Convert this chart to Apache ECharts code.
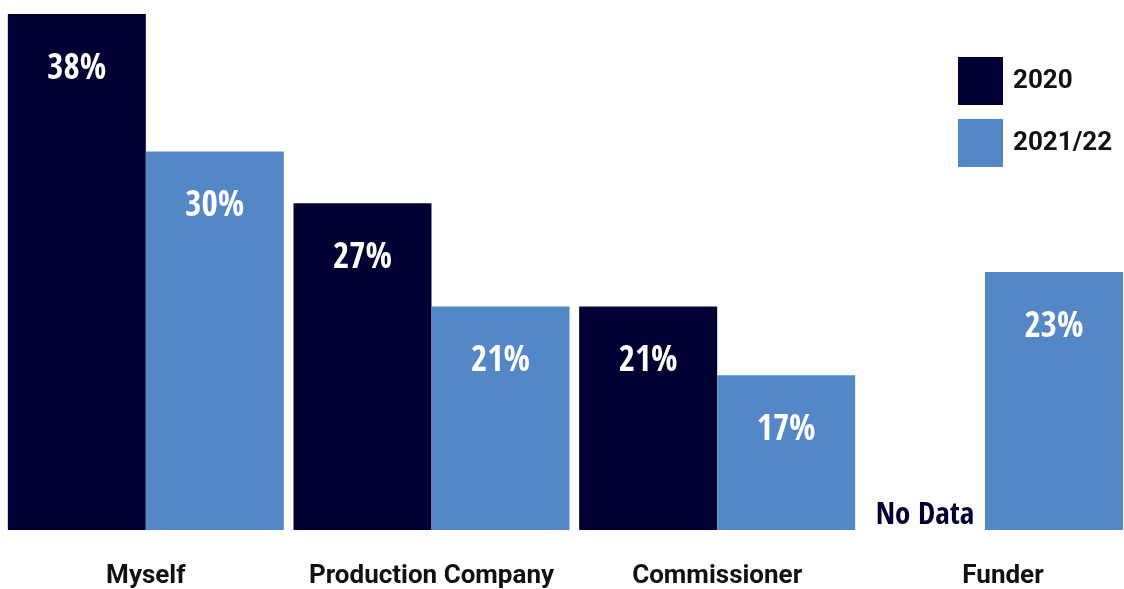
<!DOCTYPE html>
<html>
<head>
<meta charset="utf-8">
<title>Who paid for it?</title>
<script src="https://cdn.jsdelivr.net/npm/echarts@6/dist/echarts.min.js"></script>
<style>
  html, body { margin: 0; padding: 0; background: #ffffff; }
  #chart { width: 1124px; height: 589px; }
</style>
</head>
<body>
<div id="chart"></div>
<script>
// Categories and values (percent of respondents)
const categories = ['Myself', 'Production Company', 'Commissioner', 'Funder'];
const seriesNames = ['2020', '2021/22'];
const values2020 = [38, 27, 21, null];
const values2021 = [30, 21, 17, 23];
const missingText = 'No Data';

const NAVY = '#000033';
const BLUE = '#5387c6';
const Y_MIN = 8;
const Y_MAX = 38;

const CONDENSED = '"Open Sans Condensed", "Roboto Condensed", sans-serif';
const SANS = 'Roboto, "Noto Sans", sans-serif';

// The last category sits in its own grid so its bar pair can be nudged to fit the right edge
const mainCats = categories.slice(0, 3);
const lastCats = categories.slice(3);

const valueLabel = {
  show: true,
  position: 'insideTop',
  distance: 38,
  formatter: '{c}%',
  color: '#ffffff',
  fontFamily: CONDENSED,
  fontWeight: 'bold',
  fontSize: 35
};

const catLabel = {
  interval: 0,
  color: '#111111',
  fontFamily: SANS,
  fontWeight: 'bold',
  fontSize: 26,
  margin: 33
};

function bar(name, data, axis, color) {
  return {
    name: name,
    type: 'bar',
    xAxisIndex: axis,
    yAxisIndex: axis,
    data: data,
    barWidth: 138,
    barGap: '0%',
    itemStyle: { color: color },
    label: valueLabel,
    emphasis: { disabled: true },
    animation: false
  };
}

const chart = echarts.init(document.getElementById('chart'), null, { renderer: 'canvas' });

const hiddenCatAxis = {
  type: 'category',
  axisLine: { show: false },
  axisTick: { show: false },
  splitLine: { show: false }
};
const hiddenValAxis = {
  type: 'value',
  min: Y_MIN,
  max: Y_MAX,
  show: false,
  splitLine: { show: false }
};

chart.setOption({
  animation: false,
  backgroundColor: '#ffffff',
  grid: [
    { left: 3, right: 264, top: 14, bottom: 54 },
    { left: 847, right: 1, top: 14, bottom: 54 }
  ],
  xAxis: [
    Object.assign({}, hiddenCatAxis, { gridIndex: 0, data: mainCats, axisLabel: catLabel }),
    Object.assign({}, hiddenCatAxis, {
      gridIndex: 1,
      data: lastCats,
      axisLabel: Object.assign({}, catLabel, { padding: [0, 0, 0, 36] })
    })
  ],
  yAxis: [
    Object.assign({}, hiddenValAxis, { gridIndex: 0 }),
    Object.assign({}, hiddenValAxis, { gridIndex: 1 })
  ],
  legend: {
    data: seriesNames,
    orient: 'vertical',
    left: 953,
    top: 52,
    icon: 'rect',
    itemWidth: 45,
    itemHeight: 48,
    itemGap: 14,
    selectedMode: false,
    textStyle: {
      color: '#111111',
      fontFamily: SANS,
      fontWeight: 'bold',
      fontSize: 26,
      padding: [3, 0, 0, 5]
    }
  },
  series: [
    bar(seriesNames[0], values2020.slice(0, 3), 0, NAVY),
    bar(seriesNames[1], values2021.slice(0, 3), 0, BLUE),
    bar(seriesNames[0], values2020.slice(3), 1, NAVY),
    bar(seriesNames[1], values2021.slice(3), 1, BLUE)
  ]
});

// "No Data" note in the empty 2020 slot of the last category
const anchor = chart.convertToPixel({ xAxisIndex: 1, yAxisIndex: 1 }, [lastCats[0], Y_MIN]);
chart.setOption({
  graphic: [{
    type: 'text',
    x: anchor[0] - 60,
    y: anchor[1] - 14,
    style: {
      text: missingText,
      fill: NAVY,
      font: 'bold 31px ' + CONDENSED,
      align: 'center',
      verticalAlign: 'middle'
    }
  }]
});
</script>
</body>
</html>
